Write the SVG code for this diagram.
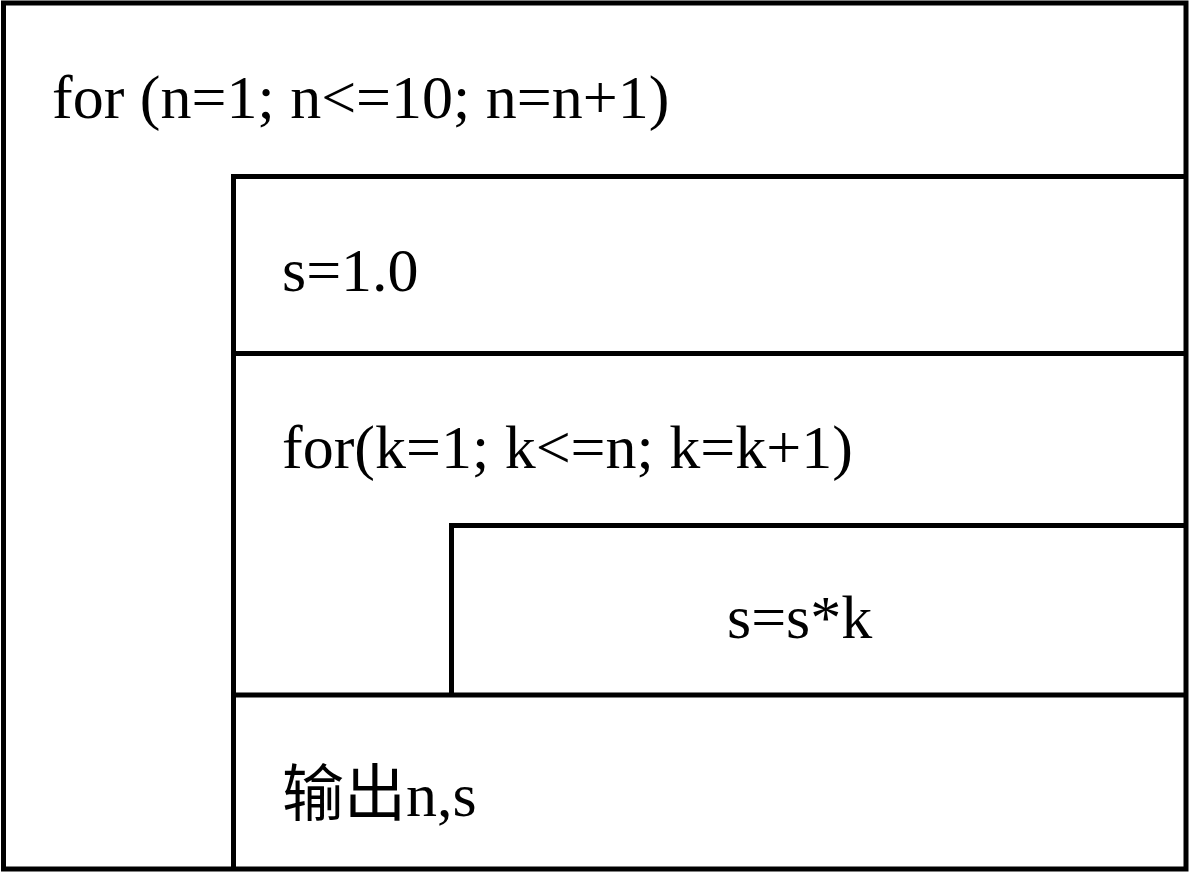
<svg xmlns="http://www.w3.org/2000/svg" width="1190" height="872" viewBox="0 0 1190 872">
<style>
.b{fill:none;stroke:#000;stroke-width:5}
.t{font-family:"Liberation Serif","Noto Sans CJK SC",serif;font-size:62px;fill:#000}
</style>
<rect x="0" y="0" width="1190" height="872" fill="#fff"/>
<g id="outer-loop">
<rect class="b" x="3.5" y="3" width="1182.5" height="866"/>
<text class="t" x="52" y="118">for (n=1; n&lt;=10; n=n+1)</text>
</g>
<g id="init">
<path class="b" d="M233.5,869 V176.5 H1186 M233.5,353.5 H1186"/>
<text class="t" x="282" y="291">s=1.0</text>
</g>
<g id="inner-loop">
<path class="b" d="M233.5,695 H1186"/>
<text class="t" x="282" y="468">for(k=1; k&lt;=n; k=k+1)</text>
</g>
<g id="body">
<path class="b" d="M451.5,695 V525.5 H1186"/>
<text class="t" x="727" y="638">s=s*k</text>
</g>
<g id="output">
<text class="t" x="282" y="816">输出n,s</text>
</g>
<g id="connectors"/>
</svg>
